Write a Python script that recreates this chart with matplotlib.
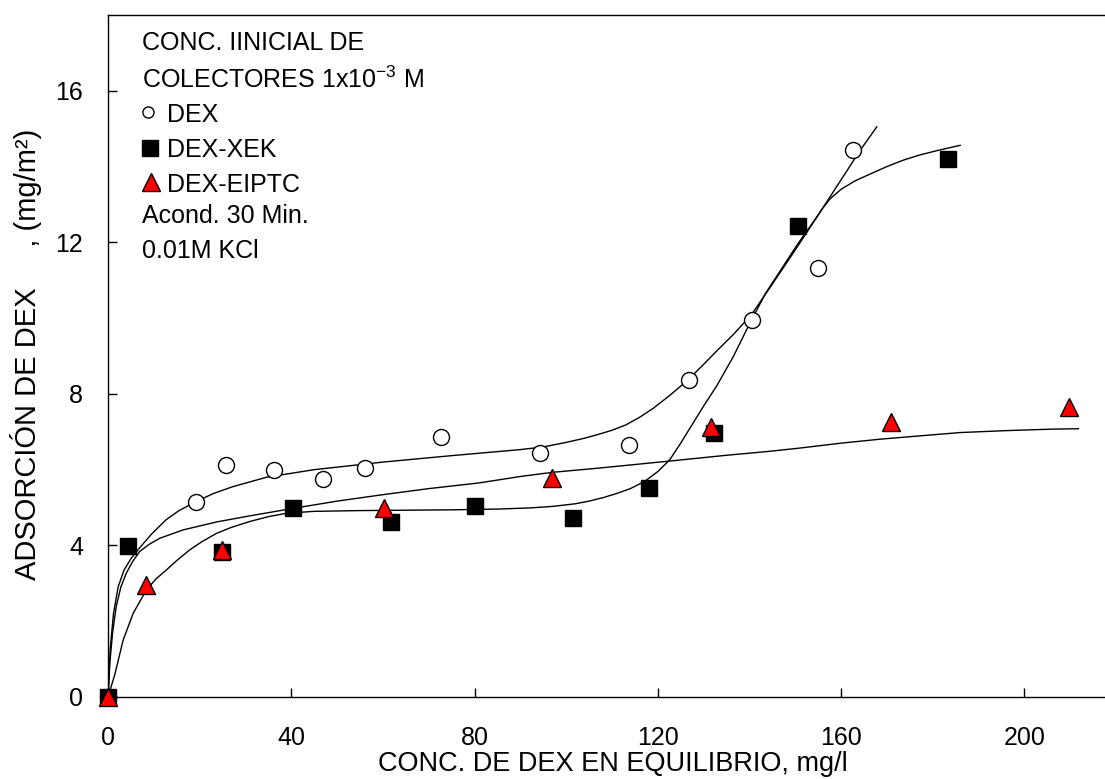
import matplotlib
matplotlib.use("Agg")
import matplotlib.pyplot as plt

plt.rcParams['font.family'] = ['Liberation Sans', 'DejaVu Sans']
plt.rcParams['mathtext.fontset'] = 'custom'
plt.rcParams['mathtext.rm'] = 'Liberation Sans'
plt.rcParams['mathtext.it'] = 'Liberation Sans'
plt.rcParams['mathtext.bf'] = 'Liberation Sans'

# ---- measured points ----
dex_x = [0, 19.1, 25.8, 36.2, 46.9, 56.2, 72.6, 94.3, 113.8, 126.7, 140.5, 155.0, 162.7]
dex_y = [0, 5.15, 6.11, 6.00, 5.75, 6.04, 6.87, 6.45, 6.66, 8.36, 9.96, 11.33, 14.45]

xek_x = [0, 4.3, 24.8, 40.4, 61.7, 80.2, 101.5, 118.1, 132.3, 150.5, 183.4]
xek_y = [0, 3.99, 3.84, 4.98, 4.62, 5.03, 4.72, 5.51, 6.98, 12.42, 14.21]

eip_x = [0, 8.4, 24.8, 60.2, 97.0, 131.6, 170.9, 209.7]
eip_y = [0, 2.96, 3.88, 4.99, 5.78, 7.12, 7.27, 7.66]

# ---- fitted curves ----
fit_dex_x = [0, 0.5, 1.2, 2.2, 3.5, 5.0, 7.0, 9.5, 12.7, 15.5, 19.1, 23, 27.2, 34.6, 45, 60,
             75, 90, 95, 100, 104, 107, 110, 113, 116, 119, 122.5, 126.6, 130, 133, 136.5,
             140.5, 145, 150, 155, 160, 164, 167.8]
fit_dex_y = [0, 1.3, 2.2, 2.9, 3.35, 3.65, 3.95, 4.3, 4.68, 4.92, 5.15, 5.37, 5.55, 5.8, 6.0, 6.2,
             6.37, 6.53, 6.6, 6.72, 6.83, 6.93, 7.04, 7.18, 7.38, 7.62, 7.95, 8.37, 8.78, 9.15,
             9.57, 10.1, 10.9, 11.8, 12.72, 13.65, 14.4, 15.05]

fit_xek_x = [0, 1.5, 3.3, 5.5, 8.4, 10.5, 12.8, 15, 17.8, 20.5, 23.7, 27, 30.9, 35, 39, 45, 55,
             65, 75, 85, 92, 97, 102, 105, 108, 111, 114, 117, 120, 122.6, 125, 127.7, 130,
             132.8, 136.5, 140.1, 143.5, 147, 150.5, 154, 156, 157.6, 160, 163, 166.3, 170,
             173.6, 177, 180.9, 186]
fit_xek_y = [0, 0.6, 1.5, 2.21, 2.83, 3.12, 3.36, 3.6, 3.88, 4.1, 4.32, 4.48, 4.63, 4.76, 4.85, 4.9,
             4.92, 4.93, 4.94, 4.96, 4.99, 5.03, 5.1, 5.17, 5.26, 5.37, 5.5, 5.68, 5.95, 6.26,
             6.7, 7.23, 7.68, 8.2, 8.99, 9.87, 10.65, 11.3, 11.95, 12.55, 12.9, 13.15, 13.4,
             13.62, 13.8, 14.0, 14.17, 14.3, 14.42, 14.56]

fit_eip_x = [0, 0.4, 1.0, 1.8, 2.8, 4.0, 5.4, 6.9, 9.0, 11.3, 16.4, 23.7, 30.9, 40, 50, 60, 70,
             81, 90, 97, 107, 122, 135, 144, 151, 160, 169, 178, 186, 196, 206, 211.8]
fit_eip_y = [0, 0.9, 1.7, 2.39, 2.9, 3.27, 3.58, 3.84, 4.03, 4.19, 4.41, 4.62, 4.78, 4.97, 5.17,
             5.34, 5.5, 5.65, 5.82, 5.93, 6.04, 6.22, 6.38, 6.48, 6.57, 6.7, 6.81, 6.9, 6.98,
             7.03, 7.07, 7.08]

x_ticks = [0, 40, 80, 120, 160, 200]
y_ticks = [0, 4, 8, 12, 16]

W, H = 1105, 779
fig = plt.figure(figsize=(W / 100, H / 100), dpi=100)
L, R, T, B = 108, 1105, 15, 697
ax = fig.add_axes([L / W, 1 - B / H, (R - L) / W, (B - T) / H])

ax.set_xlim(0, 217.6)
ax.set_ylim(0, 18.0)

lc = 'black'
ax.plot(fit_dex_x, fit_dex_y, color=lc, lw=1.0, zorder=2)
ax.plot(fit_xek_x, fit_xek_y, color=lc, lw=1.0, zorder=2)
ax.plot(fit_eip_x, fit_eip_y, color=lc, lw=1.0, zorder=2)

ax.plot(dex_x, dex_y, 'o', ms=11.5, mfc='white', mec='black', mew=1.0, ls='none',
        clip_on=False, zorder=3)
ax.plot(xek_x, xek_y, 's', ms=12, mfc='black', mec='black', mew=1.0, ls='none',
        clip_on=False, zorder=4)
ax.plot(eip_x, eip_y, '^', ms=13, mfc='#ff0000', mec='black', mew=1.0, ls='none',
        clip_on=False, zorder=5)

ax.set_xticks(x_ticks)
ax.set_yticks(y_ticks)
ax.tick_params(direction='in', length=6.5, width=1.0, labelsize=18)
ax.tick_params(axis='x', pad=21)
ax.tick_params(axis='y', pad=18)
ax.spines['right'].set_visible(False)
for s in ['left', 'bottom', 'top']:
    ax.spines[s].set_linewidth(1.0)

ax.set_xlabel('CONC. DE DEX EN EQUILIBRIO, mg/l', fontsize=19.5)
ax.xaxis.set_label_coords((613 - L) / (R - L), (B - 751) / (B - T))
ax.xaxis.label.set_va('top')
ax.set_ylabel('ADSORCIÓN DE DEX     , (mg/m²)', fontsize=21)
ax.yaxis.set_label_coords((42 - L) / (R - L), (B - 354) / (B - T))


def ax_xy(px, py):
    return (px - L) / (R - L), (B - py) / (B - T)


# annotation block
lines = [
    (142, 50, 'CONC. IINICIAL DE'),
    (142, 88, 'COLECTORES 1x10$^{-3}$ M'),
    (167, 122, 'DEX'),
    (167, 157, 'DEX-XEK'),
    (167, 192, 'DEX-EIPTC'),
    (142, 223, 'Acond. 30 Min.'),
    (142, 258, '0.01M KCl'),
]
for px, py, s in lines:
    xa, ya = ax_xy(px, py)
    ax.text(xa, ya, s, transform=ax.transAxes, fontsize=18, ha='left', va='baseline')

mx, my = ax_xy(148, 112)
ax.plot([mx], [my], 'o', ms=8, mfc='white', mec='black', mew=1.0, transform=ax.transAxes,
        clip_on=False)
mx, my = ax_xy(150, 148)
ax.plot([mx], [my], 's', ms=12, mfc='black', mec='black', transform=ax.transAxes,
        clip_on=False)
mx, my = ax_xy(151, 182)
ax.plot([mx], [my], '^', ms=13, mfc='#ff0000', mec='black', mew=1.0, transform=ax.transAxes,
        clip_on=False)

fig.savefig('out.png', dpi=100)
